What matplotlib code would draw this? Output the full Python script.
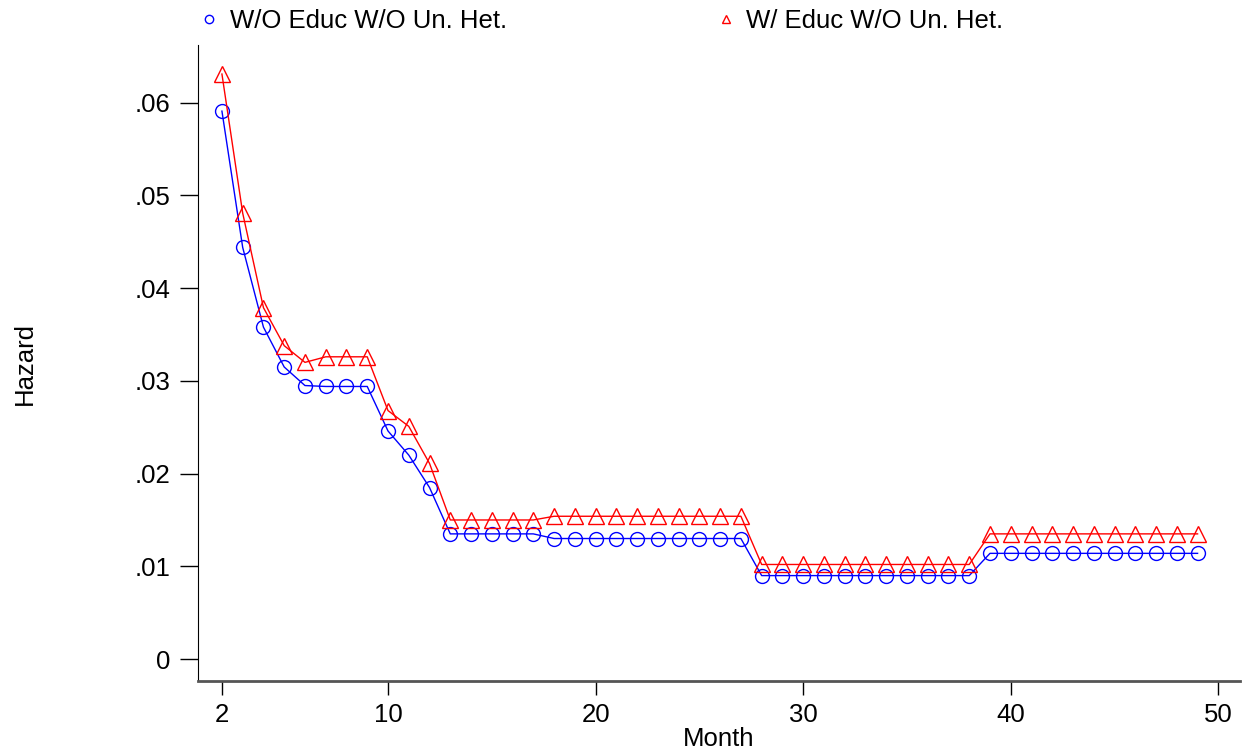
import numpy as np
import matplotlib
matplotlib.use("Agg")
import matplotlib.pyplot as plt
from matplotlib.lines import Line2D

# months 2..49
months = list(range(2, 50))

# hazard without education, without unobserved heterogeneity (blue circles)
haz_no_educ = ([0.0591, 0.0444, 0.0358, 0.0315, 0.0295, 0.0294, 0.0294, 0.0294,
                0.0246, 0.0220, 0.0185]
               + [0.0135] * 5
               + [0.0130] * 10
               + [0.0090] * 11
               + [0.0114] * 11)

# hazard with education, without unobserved heterogeneity (red triangles)
haz_educ = ([0.0631, 0.0481, 0.0379, 0.0338, 0.0320, 0.0326, 0.0326, 0.0326,
             0.0268, 0.0251, 0.0211]
            + [0.0150] * 5
            + [0.0154] * 10
            + [0.0102] * 11
            + [0.0135] * 11)

xticks = [2, 10, 20, 30, 40, 50]
yticks = [0, 0.01, 0.02, 0.03, 0.04, 0.05, 0.06]
ytick_labels = ["0", ".01", ".02", ".03", ".04", ".05", ".06"]
legend_labels = ["W/O Educ W/O Un. Het.", "W/ Educ W/O Un. Het."]

plt.rcParams["font.family"] = ["Liberation Sans", "DejaVu Sans"]

fig = plt.figure(figsize=(12.48, 7.55), dpi=100)
ax = fig.add_axes([0.1587, 0.098, 0.835, 0.842])

ax.plot(months, haz_no_educ, color="blue", lw=1, marker="o", ms=10,
        mfc="none", mec="blue", mew=1)
ax.plot(months, haz_educ, color="red", lw=1, marker="^", ms=11,
        mfc="none", mec="red", mew=1)

ax.set_xlim(0.85, 51.05)
ax.set_ylim(-0.00237, 0.0662)
ax.set_xticks(xticks)
ax.set_yticks(yticks)
ax.set_yticklabels(ytick_labels)
ax.tick_params(axis="both", labelsize=18.5, direction="out")
ax.tick_params(axis="y", length=13, width=1, pad=7)
ax.tick_params(axis="x", length=10, width=1, pad=6)

ax.spines["top"].set_visible(False)
ax.spines["right"].set_visible(False)
ax.spines["bottom"].set_color("#555555")
ax.spines["bottom"].set_linewidth(2)

ax.set_xlabel("Month", fontsize=18.5, labelpad=0)
ax.set_ylabel("Hazard", fontsize=18.5, labelpad=70)

# two legend entries placed separately, like the reference
h_blue = Line2D([], [], ls="none", marker="o", ms=6, mfc="none", mec="blue")
h_red = Line2D([], [], ls="none", marker="^", ms=6, mfc="none", mec="red")
leg1 = fig.legend([h_blue], [legend_labels[0]], loc="center left",
                  bbox_to_anchor=(0.149, 0.972), frameon=False, fontsize=18.5,
                  handletextpad=0.4, handlelength=0.8, borderpad=0)
leg2 = fig.legend([h_red], [legend_labels[1]], loc="center left",
                  bbox_to_anchor=(0.563, 0.972), frameon=False, fontsize=18.5,
                  handletextpad=0.4, handlelength=0.8, borderpad=0)

fig.savefig("out.png", dpi=100)
